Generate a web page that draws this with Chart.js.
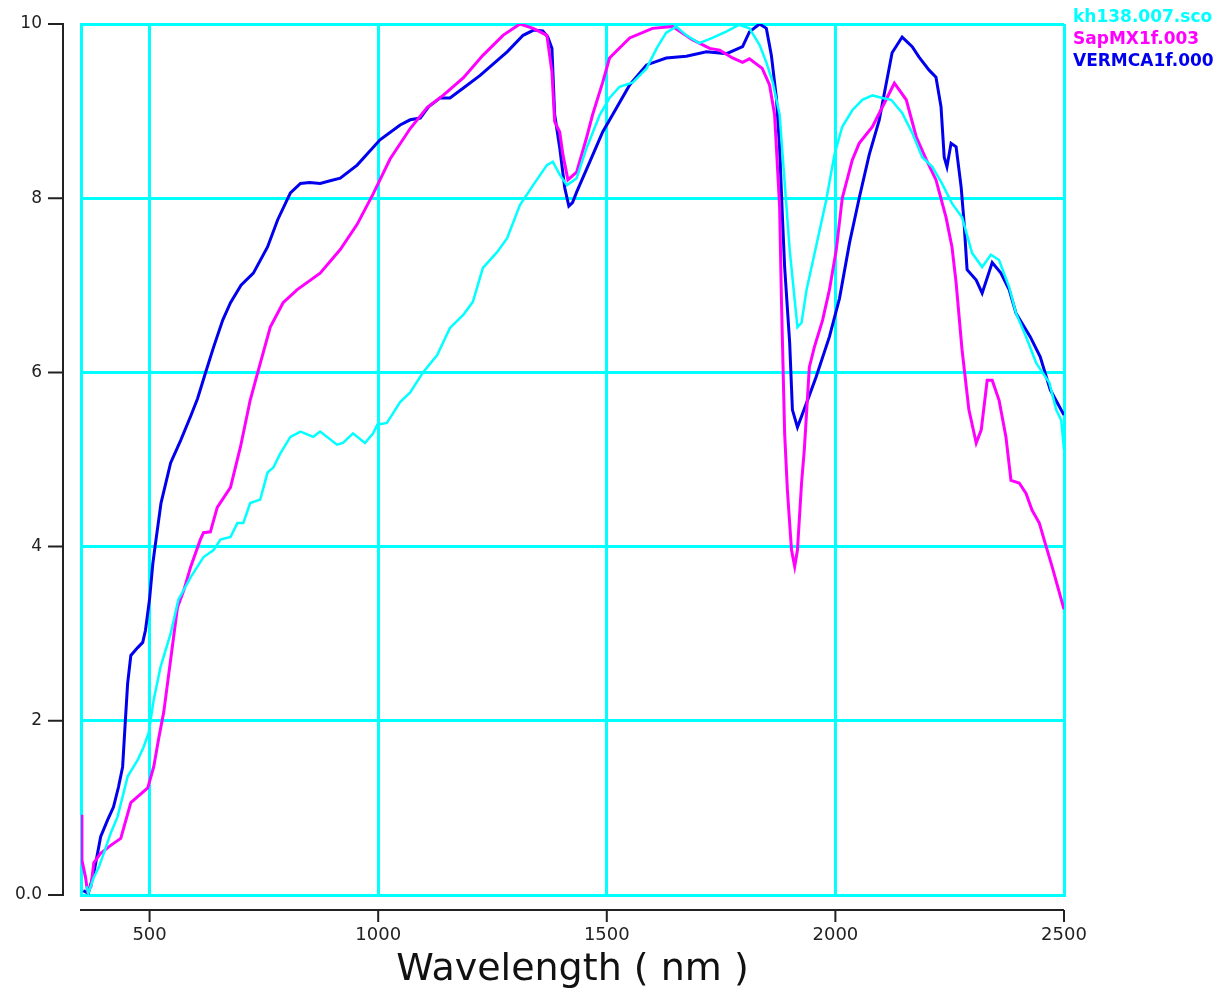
<!DOCTYPE html>
<html>
<head>
<meta charset="utf-8">
<script src="https://cdn.jsdelivr.net/npm/chart.js@4.4.1/dist/chart.umd.min.js"></script>
<style>
  body { margin:0; background:#fff; }
  #wrap { width:1223px; height:989px; }
</style>
</head>
<body>
<div id="wrap"><canvas id="spec" width="1223" height="989"></canvas></div>
<script>
// spectra: wavelength (nm) / value
const kh138Wl  = [362,366,378,389,400,415,430,443,452,474,487,498,509,524,546,563,590,618,640,655,677,692,705,720,742,758,771,786,808,830,858,873,910,923,945,971,989,998,1019,1048,1070,1098,1129,1157,1186,1207,1229,1260,1282,1310,1339,1369,1382,1397,1413,1434,1456,1485,1506,1528,1557,1587,1609,1630,1652,1674,1702,1731,1760,1789,1812,1834,1849,1863,1878,1893,1900,1911,1917,1926,1937,1958,1980,1998,2015,2037,2059,2081,2103,2122,2146,2168,2190,2212,2233,2255,2277,2299,2321,2340,2358,2380,2395,2417,2439,2468,2483,2494,2500];
const kh138Val = [0.1,0.02,0.2,0.32,0.48,0.71,0.9,1.17,1.36,1.55,1.7,1.86,2.24,2.62,3.0,3.39,3.65,3.88,3.96,4.08,4.11,4.27,4.27,4.5,4.54,4.85,4.91,5.07,5.26,5.32,5.26,5.32,5.17,5.19,5.3,5.19,5.3,5.4,5.42,5.66,5.77,6.0,6.2,6.51,6.66,6.81,7.2,7.38,7.54,7.92,8.15,8.38,8.42,8.27,8.15,8.23,8.58,8.96,9.15,9.28,9.33,9.49,9.72,9.9,9.97,9.87,9.78,9.84,9.91,9.99,9.95,9.76,9.56,9.33,8.96,7.9,7.41,6.83,6.52,6.57,6.95,7.45,7.98,8.5,8.82,9.01,9.13,9.18,9.15,9.13,8.98,8.75,8.47,8.36,8.17,7.94,7.78,7.37,7.21,7.35,7.29,6.98,6.68,6.41,6.11,5.88,5.57,5.45,5.11];

const sapWl  = [350,352,360,364,372,378,393,415,437,459,474,496,509,520,531,546,561,575,590,611,618,633,648,677,699,720,736,764,792,823,873,917,954,989,1026,1070,1107,1142,1186,1229,1273,1310,1339,1369,1380,1386,1397,1404,1415,1434,1456,1469,1491,1506,1550,1600,1644,1687,1725,1747,1775,1797,1812,1840,1856,1867,1871,1878,1882,1889,1895,1904,1911,1917,1926,1932,1943,1954,1972,1987,2002,2015,2037,2052,2081,2103,2129,2155,2177,2199,2220,2242,2255,2264,2277,2292,2308,2319,2332,2343,2358,2373,2384,2402,2417,2430,2446,2461,2474,2500];
const sapVal = [0.92,0.4,0.2,0.05,0.1,0.37,0.48,0.57,0.65,1.06,1.13,1.23,1.47,1.8,2.1,2.7,3.3,3.5,3.77,4.08,4.16,4.17,4.45,4.68,5.15,5.68,5.99,6.52,6.8,6.95,7.14,7.41,7.7,8.05,8.45,8.8,9.04,9.18,9.38,9.64,9.87,10.0,9.95,9.87,9.45,8.88,8.76,8.5,8.21,8.3,8.7,8.96,9.33,9.61,9.84,9.95,9.97,9.82,9.72,9.7,9.61,9.56,9.6,9.49,9.3,8.96,8.58,7.9,6.83,5.3,4.65,3.96,3.77,3.96,4.73,5.11,6.06,6.29,6.6,6.95,7.41,8.0,8.44,8.63,8.82,9.05,9.32,9.13,8.7,8.44,8.21,7.78,7.44,7.03,6.26,5.57,5.19,5.34,5.91,5.91,5.68,5.26,4.76,4.73,4.61,4.42,4.27,4.0,3.77,3.28];

const vermWl  = [355,366,378,393,408,421,432,441,447,452,459,474,485,491,500,507,513,525,546,568,590,605,622,640,660,677,700,727,758,780,808,830,850,873,895,917,954,1004,1048,1070,1092,1110,1135,1157,1190,1223,1282,1317,1340,1360,1371,1380,1386,1397,1408,1417,1425,1434,1463,1491,1513,1550,1587,1630,1674,1718,1762,1797,1812,1834,1849,1860,1871,1878,1884,1889,1900,1906,1917,1937,1958,1987,2009,2031,2052,2074,2096,2124,2146,2168,2183,2205,2220,2231,2238,2244,2253,2264,2275,2281,2288,2308,2321,2343,2362,2380,2395,2426,2448,2470,2500];
const vermVal = [0.05,0.02,0.25,0.67,0.86,1.01,1.24,1.47,2.0,2.43,2.75,2.84,2.9,3.04,3.4,3.8,4.04,4.5,4.96,5.22,5.5,5.7,5.99,6.29,6.6,6.8,7.0,7.14,7.44,7.75,8.06,8.17,8.18,8.17,8.2,8.23,8.38,8.67,8.84,8.9,8.92,9.05,9.15,9.15,9.28,9.41,9.68,9.87,9.93,9.92,9.85,9.72,8.96,8.58,8.12,7.91,7.95,8.07,8.42,8.76,8.96,9.3,9.53,9.61,9.63,9.68,9.66,9.74,9.91,10.0,9.95,9.64,9.15,8.58,7.8,7.21,6.34,5.57,5.37,5.65,5.95,6.41,6.85,7.49,8.0,8.5,8.9,9.67,9.85,9.74,9.62,9.47,9.39,9.05,8.47,8.36,8.63,8.59,8.13,7.75,7.18,7.06,6.91,7.26,7.14,6.95,6.68,6.41,6.18,5.8,5.51];

const seriesNames = ['kh138.007.sco', 'SapMX1f.003', 'VERMCA1f.000'];
const xTicks = [500, 1000, 1500, 2000, 2500];
const yTicks = [0, 2, 4, 6, 8, 10];
const yTickLabels = ['0.0', '2', '4', '6', '8', '10'];

function pts(xs, ys){ return xs.map((v,i)=> ({x:v, y:ys[i]})); }

// black offset axes + coloured legend text at top right
const frame = {
  id: 'frame',
  afterDraw(chart){
    const {ctx, chartArea:a, scales:{x, y}} = chart;
    ctx.save();
    ctx.strokeStyle = '#222'; ctx.lineWidth = 2;
    const ax = a.left - 18, ay = a.bottom + 15;
    ctx.beginPath();
    ctx.moveTo(ax, a.top); ctx.lineTo(ax, a.bottom);
    yTicks.forEach(v=>{ const p = y.getPixelForValue(v); ctx.moveTo(ax-15, p); ctx.lineTo(ax+1, p); });
    ctx.moveTo(a.left-1, ay); ctx.lineTo(a.right, ay);
    xTicks.forEach(v=>{ const p = x.getPixelForValue(v); ctx.moveTo(p, ay); ctx.lineTo(p, ay+12); });
    ctx.stroke();
    ctx.font = 'bold 17px "DejaVu Sans"'; ctx.textBaseline = 'middle'; ctx.textAlign = 'left';
    chart.data.datasets.forEach((d,i)=>{ ctx.fillStyle = d.borderColor; ctx.fillText(d.label, a.right + 9, 18 + i*22); });
    ctx.restore();
  }
};

const ds = (label, data, color, w) => ({ label, data, borderColor: color, borderWidth: w, showLine: true, pointRadius: 0, fill: false, tension: 0 });

new Chart(document.getElementById('spec').getContext('2d'), {
  type: 'scatter',
  data: { datasets: [
    ds(seriesNames[0], pts(kh138Wl, kh138Val), '#00FFFF', 2.5),
    ds(seriesNames[1], pts(sapWl, sapVal), '#FF00FF', 3),
    ds(seriesNames[2], pts(vermWl, vermVal), '#0000EE', 3)
  ]},
  options: {
    responsive: false, animation: false,
    layout: { padding: { left: 0, top: 24, right: 159, bottom: 0 } },
    plugins: { legend: { display: false }, tooltip: { enabled: false } },
    scales: {
      x: {
        type: 'linear', min: 350, max: 2500,
        afterBuildTicks: s => { s.ticks = xTicks.map(v=>({value:v})); },
        afterFit: s => { s.height = 94; },
        grid: { color: '#00FFFF', lineWidth: 3, drawTicks: false },
        border: { display: true, color: '#00FFFF', width: 3 },
        ticks: { color: '#222', font: { family: 'DejaVu Sans', size: 18 }, padding: 30, maxRotation: 0, callback: v => String(v) },
        title: { display: true, text: 'Wavelength ( nm )', color: '#111', font: { family: 'DejaVu Sans', size: 38, lineHeight: 1.0 }, padding: { top: 0, bottom: 0 } }
      },
      y: {
        min: 0, max: 10,
        afterBuildTicks: s => { s.ticks = yTicks.map(v=>({value:v})); },
        afterFit: s => { s.width = 81; s.paddingTop = 0; s.paddingBottom = 0; },
        grid: { color: '#00FFFF', lineWidth: 3, drawTicks: false },
        border: { display: true, color: '#00FFFF', width: 3 },
        ticks: { color: '#222', font: { family: 'DejaVu Sans', size: 17 }, padding: 39, callback: v => yTickLabels[yTicks.indexOf(v)] }
      }
    }
  },
  plugins: [frame]
});
</script>
</body>
</html>
